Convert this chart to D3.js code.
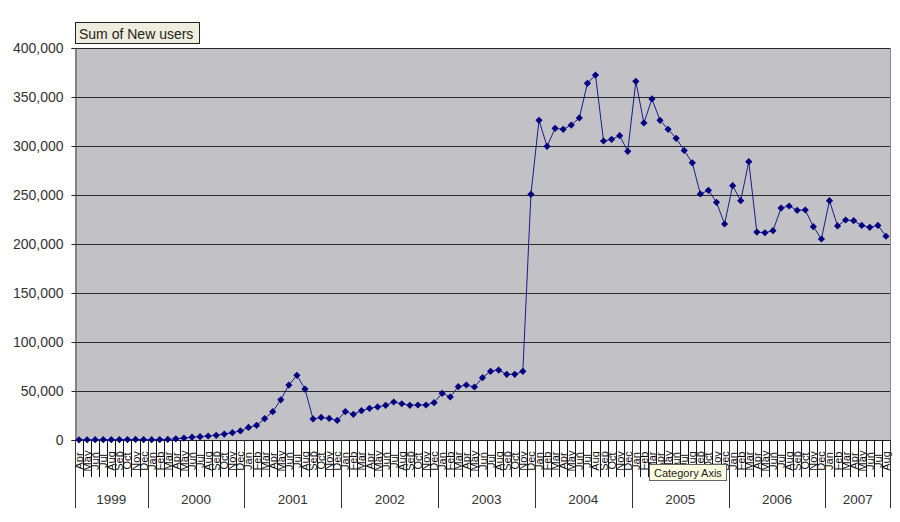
<!DOCTYPE html>
<html>
<head>
<meta charset="utf-8">
<script src="https://cdn.jsdelivr.net/npm/d3@7"></script>
<style>
  html, body { margin: 0; padding: 0; background: #ffffff; }
  svg { display: block; font-family: "Liberation Sans", Arial, sans-serif; }
</style>
</head>
<body>
<svg id="chart" width="900" height="522"></svg>
<script>
// ---------------- data ----------------
const monthNames = ["Jan","Feb","Mar","Apr","May","Jun","Jul","Aug","Sep","Oct","Nov","Dec"];
const years = ["1999","2000","2001","2002","2003","2004","2005","2006","2007"];
const firstMonthIndex = 3;   // data starts in April 1999
const lastMonthIndex = 7;    // data ends in August 2007

const values1999 = [200, 250, 300, 300, 350, 400, 450, 600, 400];
const values2000 = [350, 450, 550, 1200, 2000, 2900, 3400, 4100, 4800, 6000, 7500, 9300];
const values2001 = [12800, 15000, 21800, 28900, 41000, 56000, 66000, 52000, 21500, 23000, 22000, 20000];
const values2002 = [29000, 26200, 29900, 32300, 33700, 35400, 38800, 37000, 35400, 35700, 35700, 38100];
const values2003 = [47600, 43900, 54400, 56100, 54100, 63600, 70100, 71400, 67000, 67000, 70100, 250700];
const values2004 = [326200, 299700, 318000, 317000, 321400, 328600, 364000, 372400, 305100, 306800, 310500, 294600];
const values2005 = [366000, 323500, 348000, 326200, 317000, 307800, 295400, 282800, 251000, 254800, 242500, 220400];
const values2006 = [259500, 244200, 284000, 212200, 211500, 213600, 236700, 238800, 234400, 234700, 217700, 205100];
const values2007 = [244200, 218400, 224500, 223800, 219000, 217000, 219000, 207900];
const valuesByYear = [values1999, values2000, values2001, values2002, values2003, values2004, values2005, values2006, values2007];

const yTicks = [0, 50000, 100000, 150000, 200000, 250000, 300000, 350000, 400000];
const titleText = "Sum of New users";
const tooltipText = "Category Axis";

// build category list from years and month names
const categories = [];
const series = [];
years.forEach((yr, yi) => {
  const start = yi === 0 ? firstMonthIndex : 0;
  valuesByYear[yi].forEach((v, k) => {
    const key = yr + "-" + monthNames[start + k];
    categories.push({ key, year: yr, month: monthNames[start + k] });
    series.push({ key, value: v });
  });
});

// ---------------- layout ----------------
const svg = d3.select("#chart");
const plot = { left: 75, right: 890, top: 48, bottom: 440 };

const x = d3.scaleBand()
  .domain(categories.map(c => c.key))
  .range([plot.left, plot.right])
  .paddingInner(0).paddingOuter(0);

const y = d3.scaleLinear()
  .domain([0, 400000])
  .range([plot.bottom, plot.top]);

// plot background
svg.append("rect")
  .attr("x", plot.left).attr("y", plot.top)
  .attr("width", plot.right - plot.left).attr("height", plot.bottom - plot.top)
  .attr("fill", "#c2c1c5");

// gridlines
svg.append("g").selectAll("line").data(yTicks.filter(t => t > 0)).join("line")
  .attr("x1", plot.left).attr("x2", plot.right)
  .attr("y1", d => Math.round(y(d)) + 0.5).attr("y2", d => Math.round(y(d)) + 0.5)
  .attr("stroke", "#2a2a2a").attr("stroke-width", 1);

// right border of plot
svg.append("line")
  .attr("x1", plot.right + 0.5).attr("x2", plot.right + 0.5)
  .attr("y1", plot.top).attr("y2", plot.bottom)
  .attr("stroke", "#8a8a8a");

// y axis
const yAxis = d3.axisLeft(y).tickValues(yTicks).tickSize(4).tickPadding(8)
  .tickFormat(d3.format(","));
const gy = svg.append("g")
  .attr("transform", `translate(${plot.left + 0.5},0)`)
  .call(yAxis);
gy.select(".domain").attr("stroke", "#444");
gy.selectAll(".tick line").attr("stroke", "#222");
gy.selectAll(".tick text")
  .attr("font-size", 14)
  .attr("fill", "#333")
  .attr("font-family", "'Liberation Sans', Arial, sans-serif");

// category axis baseline
svg.append("line")
  .attr("x1", plot.left).attr("x2", plot.right)
  .attr("y1", plot.bottom + 0.5).attr("y2", plot.bottom + 0.5)
  .attr("stroke", "#222");

// month tick lines
const boundaries = categories.map(c => x(c.key));
boundaries.push(plot.right);
svg.append("g").selectAll("line").data(boundaries).join("line")
  .attr("x1", d => Math.round(d) + 0.5).attr("x2", d => Math.round(d) + 0.5)
  .attr("y1", plot.bottom).attr("y2", 477)
  .attr("stroke", "#111").attr("stroke-width", 1);

// month labels (rotated)
svg.append("g").selectAll("text").data(categories).join("text")
  .attr("transform", d => `translate(${x(d.key) + x.bandwidth() / 2 + 4},461) rotate(-90)`)
  .attr("text-anchor", "middle")
  .attr("font-size", 11)
  .attr("fill", "#111")
  .text(d => d.month);

// year groups
const yearSpans = years.map(yr => {
  const keys = categories.filter(c => c.year === yr).map(c => c.key);
  const x0 = x(keys[0]);
  const x1 = x(keys[keys.length - 1]) + x.bandwidth();
  return { yr, x0, x1 };
});
const yearLines = [plot.left].concat(yearSpans.map(s => s.x1));
svg.append("g").selectAll("line").data(yearLines).join("line")
  .attr("x1", d => Math.round(d) + 0.5).attr("x2", d => Math.round(d) + 0.5)
  .attr("y1", plot.bottom).attr("y2", 508)
  .attr("stroke", "#333").attr("stroke-width", 1);
svg.append("g").selectAll("text").data(yearSpans).join("text")
  .attr("x", d => (d.x0 + d.x1) / 2)
  .attr("y", 504)
  .attr("text-anchor", "middle")
  .attr("font-size", 13.5)
  .attr("fill", "#333")
  .text(d => d.yr);

// series line
const line = d3.line()
  .x(d => x(d.key) + x.bandwidth() / 2)
  .y(d => y(d.value));
svg.append("path")
  .datum(series)
  .attr("d", line)
  .attr("fill", "none")
  .attr("stroke", "#1a1a8c")
  .attr("stroke-width", 1);

// diamond markers
const r = 3.6;
svg.append("g").selectAll("path").data(series).join("path")
  .attr("transform", d => `translate(${x(d.key) + x.bandwidth() / 2},${y(d.value)})`)
  .attr("d", `M0,${-r}L${r},0L0,${r}L${-r},0Z`)
  .attr("fill", "#000080");

// title box
const title = svg.append("g");
title.append("rect")
  .attr("x", 75.5).attr("y", 22.5).attr("width", 124).attr("height", 21)
  .attr("fill", "#efedde").attr("stroke", "#222");
title.append("text")
  .attr("x", 79).attr("y", 38.5)
  .attr("font-size", 14).attr("fill", "#222")
  .text(titleText);

// tooltip
const tip = svg.append("g");
tip.append("rect")
  .attr("x", 649.5).attr("y", 464.5).attr("width", 77).attr("height", 16)
  .attr("fill", "#ffffe1").attr("stroke", "#666");
tip.append("text")
  .attr("x", 654).attr("y", 476.5)
  .attr("font-size", 11).attr("fill", "#222")
  .text(tooltipText);
</script>
</body>
</html>
